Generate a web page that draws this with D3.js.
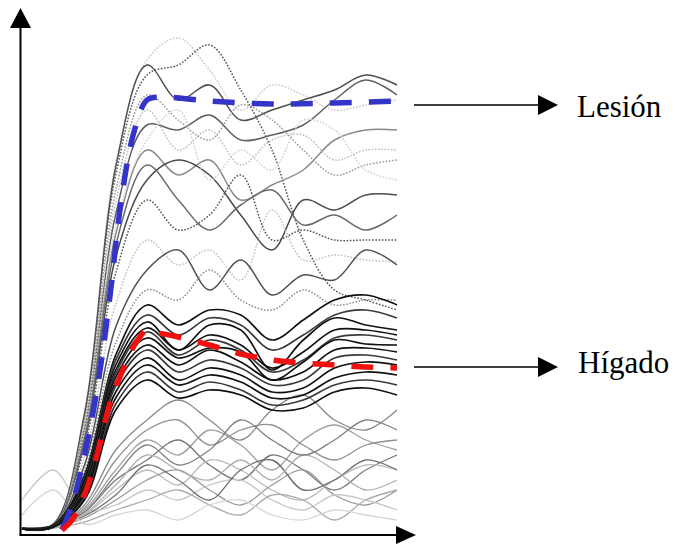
<!DOCTYPE html>
<html>
<head>
<meta charset="utf-8">
<script src="https://d3js.org/d3.v7.min.js"></script>
<style>
body { margin: 0; background: #fff; }
text { font-family: "Liberation Serif", "Times New Roman", serif; }
</style>
</head>
<body>
<svg width="675" height="544"></svg>
<script>
// sampling times (s) shared by all pixel curves
var times = [0, 5, 10, 15, 20, 25, 30, 35, 40, 45, 50, 55, 60];

var lesionTimes = [6.4, 8, 10, 12, 14, 16, 18, 20, 22, 30, 40, 50, 60];
var lesionValues = [0, 25, 75, 140, 230, 335, 400, 430, 433, 429, 426, 427, 429];

var liverTimes = [6.4, 8, 10, 12, 14, 16, 18, 20, 22, 25, 30, 35, 40, 45, 50, 55, 60];
var liverValues = [0, 10, 35, 75, 125, 158, 185, 200, 197, 193, 185, 176, 170, 167, 165, 163, 162];

var upperCurves = [
  [2, 5, 118, 367, 470, 492, 460, 420, 445, 435, 420, 425, 430],
  [1, 4, 114, 355, 455, 465, 485, 440, 380, 290, 240, 230, 220],
  [1, 6, 116, 363, 465, 430, 445, 410, 420, 430, 440, 455, 445],
  [2, 5, 101, 316, 405, 400, 415, 390, 395, 405, 430, 450, 435],
  [1, 4, 95, 296, 380, 355, 370, 330, 345, 360, 390, 400, 400],
  [1, 3, 105, 328, 420, 380, 400, 365, 390, 395, 370, 380, 380],
  [1, 4, 88, 273, 350, 370, 355, 315, 280, 330, 320, 335, 335],
  [2, 5, 83, 257, 330, 300, 315, 355, 290, 300, 290, 290, 290],
  [1, 3, 73, 226, 290, 265, 280, 250, 320, 270, 275, 270, 268],
  [1, 4, 65, 203, 260, 280, 240, 270, 235, 255, 250, 280, 265],
  [1, 3, 60, 187, 240, 230, 260, 230, 220, 240, 225, 230, 230],
  [1, 4, 109, 339, 435, 410, 390, 425, 410, 380, 355, 365, 370],
  [1, 3, 98, 304, 390, 420, 350, 380, 360, 410, 400, 360, 350],
  [1, 4, 91, 285, 365, 330, 300, 325, 340, 305, 315, 300, 315]
];
var upperShades = ['#c8c8c8', '#555', '#505050', '#606060', '#8a8a8a', '#bdbdbd', '#4a4a4a',
  '#555', '#c0c0c0', '#505050', '#8c8c8c', '#9a9a9a', '#d0d0d0', '#6a6a6a'];
var upperDotted = [true, true, false, false, false, true, false, true, true, false, true, true, true, false];

var liverCurves = [
  [1, 4, 55, 175, 225, 205, 220, 215, 190, 210, 230, 235, 225],
  [1, 4, 52, 170, 215, 195, 212, 205, 180, 195, 215, 220, 212],
  [2, 5, 50, 165, 208, 180, 205, 200, 160, 190, 212, 205, 200],
  [1, 4, 48, 160, 202, 180, 195, 185, 162, 178, 200, 200, 195],
  [1, 4, 46, 157, 198, 175, 190, 180, 158, 170, 192, 195, 190],
  [1, 3, 44, 153, 192, 172, 182, 178, 150, 168, 190, 186, 185],
  [1, 3, 42, 148, 185, 165, 180, 168, 150, 158, 180, 182, 178],
  [1, 3, 40, 144, 180, 158, 170, 162, 145, 150, 172, 175, 170],
  [1, 3, 38, 138, 172, 150, 162, 155, 138, 142, 162, 168, 165],
  [1, 3, 35, 132, 165, 145, 155, 148, 132, 135, 152, 158, 155],
  [1, 3, 32, 126, 158, 138, 148, 140, 125, 130, 145, 150, 145],
  [1, 3, 30, 120, 150, 132, 140, 135, 120, 122, 138, 142, 135]
];

var lowerCurves = [
  [1, 3, 25, 80, 110, 130, 110, 90, 120, 135, 110, 100, 120],
  [1, 3, 20, 60, 90, 75, 100, 85, 60, 90, 105, 90, 80],
  [2, 4, 18, 50, 70, 90, 65, 50, 75, 60, 40, 60, 75],
  [1, 2, 15, 40, 60, 45, 70, 60, 40, 30, 50, 65, 60],
  [1, 3, 12, 30, 50, 60, 40, 25, 45, 60, 35, 25, 40],
  [30, 60, 20, 25, 40, 30, 45, 50, 30, 20, 35, 30, 20],
  [1, 3, 14, 35, 65, 50, 30, 60, 70, 40, 50, 70, 60],
  [1, 2, 8, 20, 30, 40, 25, 15, 35, 30, 10, 30, 40],
  [15, 40, 6, 15, 20, 10, 25, 30, 15, 10, 20, 15, 10],
  [2, 3, 22, 70, 100, 110, 85, 100, 105, 85, 70, 85, 90],
  [1, 2, 16, 45, 75, 60, 50, 70, 50, 75, 60, 40, 50],
  [1, 3, 18, 55, 85, 65, 80, 110, 90, 75, 90, 110, 100]
];
var lowerShades = ['#888', '#a0a0a0', '#777', '#bbb', '#999', '#c8c8c8', '#6e6e6e',
  '#aaa', '#d5d5d5', '#909090', '#b0b0b0', '#808080'];

var svg = d3.select('svg');

var x = d3.scaleLinear().domain([0, 60]).range([22, 397]);
var y = d3.scaleLinear().domain([0, 500]).range([530, 30]);

var line = d3.line()
  .x(function(d) { return x(d[0]); })
  .y(function(d) { return y(d[1]); })
  .curve(d3.curveCatmullRom.alpha(0.5));

var drawGroup = function(curves, shades, dotted, width) {
  svg.append('g')
    .selectAll('path')
    .data(curves)
    .enter()
    .append('path')
    .attr('d', function(d) { return line(d3.zip(times, d)); })
    .attr('fill', 'none')
    .attr('stroke', function(d, i) { return shades[i]; })
    .attr('stroke-width', width)
    .attr('stroke-dasharray', function(d, i) { return dotted && dotted[i] ? '1.6,1.6' : null; });
};

drawGroup(lowerCurves, lowerShades, null, 1.3);
drawGroup(upperCurves, upperShades, upperDotted, 1.5);
drawGroup(liverCurves, liverCurves.map(function(d, i) { return i % 3 === 1 ? '#3a3a3a' : '#111'; }), null, 1.7);

// mean curves
svg.append('path')
  .attr('d', line(d3.zip(lesionTimes, lesionValues)))
  .attr('fill', 'none')
  .attr('stroke', '#3434c8')
  .attr('stroke-width', 5.5)
  .attr('stroke-dasharray', '22,17');

svg.append('path')
  .attr('d', line(d3.zip(liverTimes, liverValues)))
  .attr('fill', 'none')
  .attr('stroke', '#f01010')
  .attr('stroke-width', 5.5)
  .attr('stroke-dasharray', '22,17');

// axes with arrowheads
svg.append('line').attr('x1', 20.5).attr('y1', 535).attr('x2', 20.5).attr('y2', 24)
  .attr('stroke', '#000').attr('stroke-width', 2);
svg.append('path').attr('d', 'M10,28L31,28L20.5,8Z').attr('fill', '#000');

svg.append('line').attr('x1', 19.5).attr('y1', 535).attr('x2', 400).attr('y2', 535)
  .attr('stroke', '#000').attr('stroke-width', 2);
svg.append('path').attr('d', 'M396,526L396,544L416,535Z').attr('fill', '#000');

// labels
var labels = [
  { text: 'Lesión', ly: 105, tx: 577, ty: 117 },
  { text: 'Hígado', ly: 367, tx: 578, ty: 373 }
];

labels.forEach(function(l) {
  svg.append('line').attr('x1', 414).attr('y1', l.ly).attr('x2', 542).attr('y2', l.ly)
    .attr('stroke', '#000').attr('stroke-width', 1.5);
  svg.append('path').attr('d', 'M538,' + (l.ly - 10) + 'L558,' + l.ly + 'L538,' + (l.ly + 10) + 'Z')
    .attr('fill', '#000');
  svg.append('text').attr('x', l.tx).attr('y', l.ty)
    .attr('font-size', 31).attr('fill', '#000').text(l.text);
});
</script>
</body>
</html>
